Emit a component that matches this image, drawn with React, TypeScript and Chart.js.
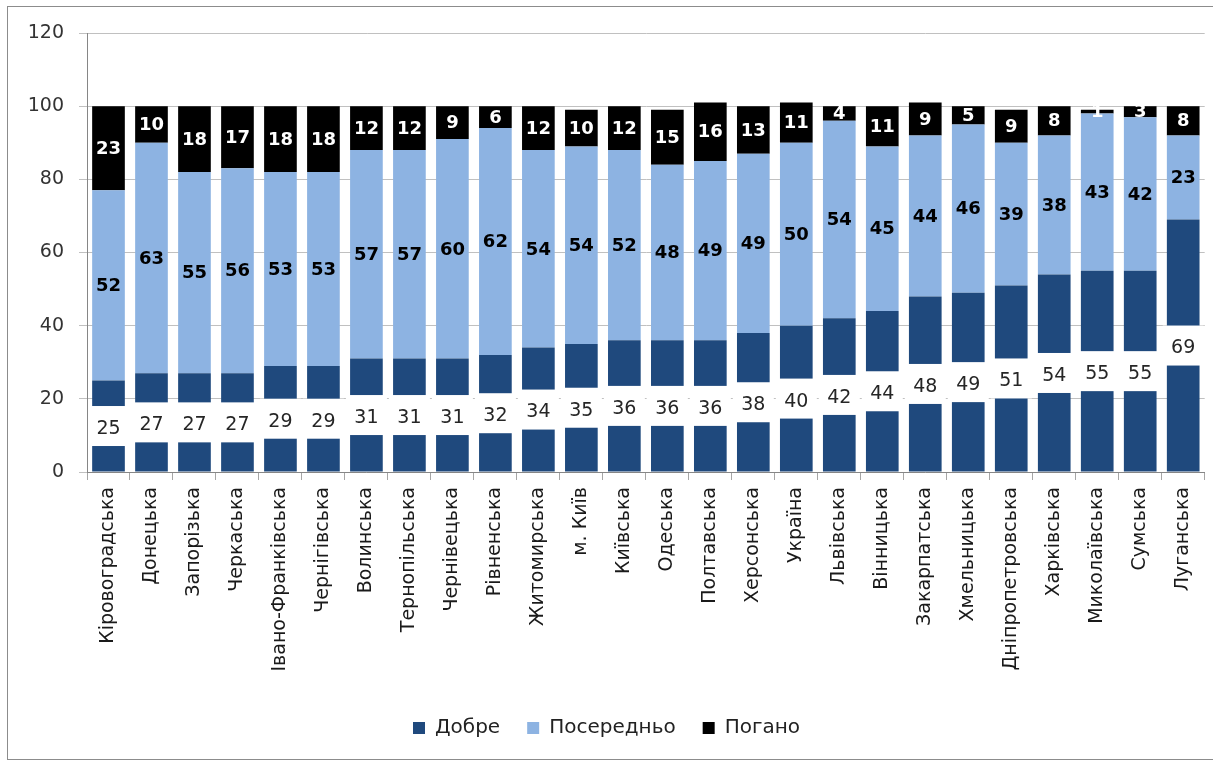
import React, { useEffect, useRef } from "react";
import { Chart, registerables } from "chart.js";

Chart.register(...registerables);

const categories = [
  "Кіровоградська", "Донецька", "Запорізька", "Черкаська", "Івано-Франківська",
  "Чернігівська", "Волинська", "Тернопільська", "Чернівецька", "Рівненська",
  "Житомирська", "м. Київ", "Київська", "Одеська", "Полтавська", "Херсонська",
  "Україна", "Львівська", "Вінницька", "Закарпатська", "Хмельницька",
  "Дніпропетровська", "Харківська", "Миколаївська", "Сумська", "Луганська",
];
const good = [25, 27, 27, 27, 29, 29, 31, 31, 31, 32, 34, 35, 36, 36, 36, 38, 40, 42, 44, 48, 49, 51, 54, 55, 55, 69];
const medium = [52, 63, 55, 56, 53, 53, 57, 57, 60, 62, 54, 54, 52, 48, 49, 49, 50, 54, 45, 44, 46, 39, 38, 43, 42, 23];
const bad = [23, 10, 18, 17, 18, 18, 12, 12, 9, 6, 12, 10, 12, 15, 16, 13, 11, 4, 11, 9, 5, 9, 8, 1, 3, 8];
const seriesNames = ["Добре", "Посередньо", "Погано"];
const seriesColors = ["#1F497D", "#8DB3E2", "#000000"];
const yMin = 0;
const yMax = 120;
const yStep = 20;

const FONT = "'DejaVu Sans', 'Noto Sans', sans-serif";

const segLabels = {
  id: "segLabels",
  afterDatasetsDraw(chart: any) {
    const ctx = chart.ctx;
    chart.data.datasets.forEach((ds: any, di: number) => {
      const meta = chart.getDatasetMeta(di);
      meta.data.forEach((el: any, i: number) => {
        const v = ds.data[i];
        const { x, y, base } = el.getProps(["x", "y", "base"], true);
        const cy = (y + base) / 2;
        ctx.save();
        ctx.textAlign = "center";
        ctx.textBaseline = "middle";
        if (di === 0) {
          ctx.fillStyle = "#ffffff";
          ctx.fillRect(x - 20.5, cy - 20, 41, 40);
          ctx.font = `19px ${FONT}`;
          ctx.fillStyle = "#262626";
          ctx.fillText(String(v), x, cy + 3);
        } else if (di === 1) {
          ctx.font = `bold 18px ${FONT}`;
          ctx.fillStyle = "#000000";
          ctx.fillText(String(v), x, cy + 1);
        } else {
          ctx.font = `bold 18px ${FONT}`;
          ctx.fillStyle = "#ffffff";
          ctx.fillText(String(v), x, cy + 1);
        }
        ctx.restore();
      });
    });
  },
};

export default function App() {
  const ref = useRef<HTMLCanvasElement | null>(null);

  useEffect(() => {
    if (!ref.current) return;
    const values = [good, medium, bad];
    const chart = new Chart(ref.current, {
      type: "bar",
      data: {
        labels: categories,
        datasets: values.map((d, i) => ({
          label: seriesNames[i],
          data: d,
          backgroundColor: seriesColors[i],
          borderWidth: 0,
          categoryPercentage: 1,
          barPercentage: 0.76,
        })),
      },
      options: {
        animation: false,
        responsive: false,
        maintainAspectRatio: false,
        devicePixelRatio: 1,
        layout: { padding: { top: 33, left: 0, right: 0, bottom: 12 } },
        plugins: {
          legend: {
            position: "bottom",
            labels: {
              boxWidth: 12,
              boxHeight: 12,
              padding: 27,
              color: "#222",
              font: { family: FONT, size: 20 },
            },
          },
          tooltip: { enabled: false },
        },
        scales: {
          x: {
            stacked: true,
            grid: { display: true, drawOnChartArea: false, drawTicks: true, tickLength: 8, color: "#a6a6a6", offset: true },
            border: { color: "#868686", width: 1 },
            ticks: {
              autoSkip: false,
              maxRotation: 90,
              minRotation: 90,
              padding: 7,
              color: "#1a1a1a",
              font: { family: FONT, size: 19 },
            },
            afterFit: (s: any) => {
              s.height = 219;
            },
          },
          y: {
            stacked: true,
            min: yMin,
            max: yMax,
            ticks: { stepSize: yStep, padding: 15, color: "#333", font: { family: FONT, size: 19 } },
            grid: { color: "#c0c0c0", tickLength: 8, drawTicks: true },
            border: { color: "#868686", width: 1 },
            afterFit: (s: any) => {
              s.width = 87;
            },
          },
        },
      },
      plugins: [segLabels],
    });
    return () => chart.destroy();
  }, []);

  return (
    <div style={{ position: "fixed", left: 0, top: 0, width: 1213, height: 760, overflow: "hidden", background: "#fff" }}>
      <div style={{ position: "absolute", left: 7, top: 6, width: 1300, height: 752, border: "1px solid #8c8c8c" }} />
      <canvas ref={ref} width={1213} height={760} style={{ position: "absolute", left: 0, top: 0, width: 1213, height: 760 }} />
    </div>
  );
}
